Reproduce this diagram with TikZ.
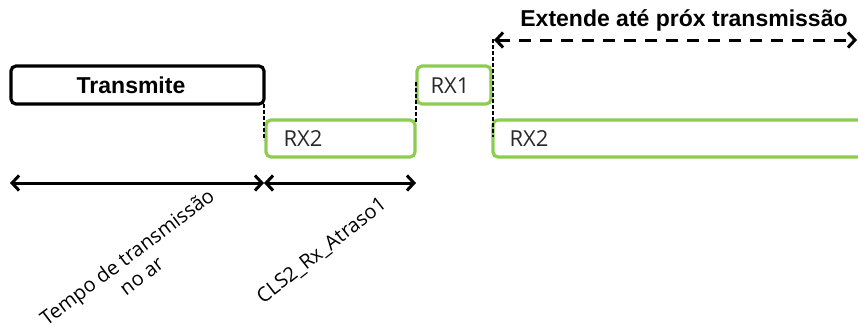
\documentclass[tikz,border=0pt]{standalone}
\usepackage{fontspec}
\setmainfont{Open Sans}
\newfontfamily\arialb{Liberation Sans}[BoldFont={* Bold}]
\usetikzlibrary{arrows.meta}
\definecolor{rxgreen}{RGB}{140,204,80}
\definecolor{labgray}{RGB}{40,40,40}
\tikzset{
  txbox/.style={draw=black,line width=3.2pt,rounded corners=5pt},
  rxbox/.style={draw=rxgreen,line width=3.2pt,rounded corners=5pt},
  rxlabel/.style={font=\fontsize{22}{26}\selectfont,text=labgray,anchor=west},
  boldlabel/.style={font=\arialb\bfseries\fontsize{23}{26}\selectfont},
  guide/.style={draw=black,line width=1.4pt,dash pattern=on 4pt off 2pt},
  span/.style={line width=3pt,{Straight Barb[length=7pt,width=15pt,line width=3pt]}-{Straight Barb[length=7pt,width=15pt,line width=3pt]}},
  rotlabel/.style={font=\fontsize{20}{24}\selectfont,align=center}
}
\begin{document}
\begin{tikzpicture}[x=1pt,y=-1pt]
\useasboundingbox (0,0) rectangle (858,335);
% boxes
\draw[txbox] (11,66) rectangle (264,104);
\node[boldlabel] (tx) at (131,85) {Transmite};
\draw[rxbox] (266,120) rectangle (415,157);
\node[rxlabel] (rx2a) at (280,139) {RX2};
\draw[rxbox] (417,66) rectangle (491,104);
\node[rxlabel] (rx1) at (427,86) {RX1};
\draw[rxbox] (493,120) rectangle (870,157);
\node[rxlabel] (rx2b) at (506,139) {RX2};
% guides
\coordinate (g1a) at (264,104); \coordinate (g1b) at (264,140);
\coordinate (g2a) at (416,82);  \coordinate (g2b) at (416,122);
\coordinate (g3a) at (493,39);  \coordinate (g3b) at (493,137);
\draw[guide] (g1a) -- (g1b);
\draw[guide] (g2a) -- (g2b);
\draw[guide] (g3a) -- (g3b);
% spans
\coordinate (a1) at (10,183); \coordinate (a2) at (264,183); \coordinate (a3) at (416,183);
\draw[span] (a1) -- (a2);
\draw[span] (a2) -- (a3);
\coordinate (d1) at (494,40); \coordinate (d2) at (857,40);
\draw[span,dash pattern=on 12pt off 9pt] (d1) -- (d2);
\node[boldlabel] (ext) at (684,20) {Extende até próx transmissão};
% rotated labels
\node[rotlabel,rotate=37] (tempo) at (134,266) {Tempo de transmissão\\no ar};
\node[rotlabel,rotate=38] (cls) at (322,251) {CLS2\_Rx\_Atraso1};
\end{tikzpicture}
\end{document}
